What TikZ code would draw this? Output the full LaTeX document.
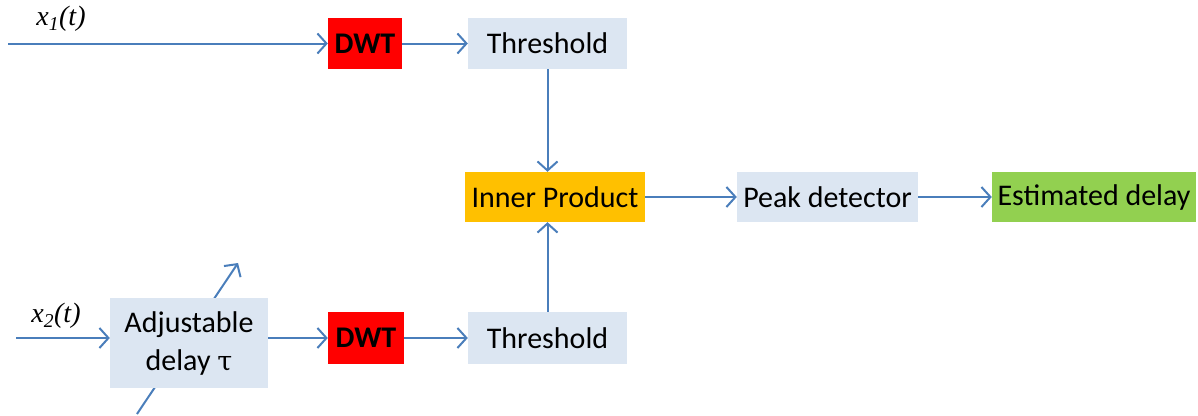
\documentclass[tikz,border=0pt]{standalone}
\usepackage{fontspec}
\setmainfont{Carlito}
\newfontfamily\timesit{Liberation Serif}
\usetikzlibrary{arrows.meta}
\definecolor{wire}{HTML}{4A7EBB}
\definecolor{paleblue}{HTML}{DCE6F2}
\definecolor{dwtred}{HTML}{FF0000}
\definecolor{prodorange}{HTML}{FFC000}
\definecolor{outgreen}{HTML}{92D050}
\tikzset{
  blk/.style={draw=none, inner sep=0pt, font=\fontsize{30}{35}\selectfont, align=center},
  paleblk/.style={blk, fill=paleblue},
  dwtblk/.style={blk, fill=dwtred, font=\fontsize{30}{35}\selectfont\bfseries, minimum width=74pt, minimum height=51pt},
  flow/.style={draw=wire, line width=2pt, -{Straight Barb[length=9pt, width=20pt, line width=2pt]}},
  sig/.style={font=\fontsize{28}{30}\selectfont\timesit\itshape}
}
\begin{document}
\begin{tikzpicture}[x=1pt, y=-1pt]
\useasboundingbox (0,0) rectangle (1198,415);

% tuning arrow drawn first so the delay box covers its middle
\coordinate (tuneA) at (137,414);
\coordinate (tuneB) at (238,263);
\draw[flow] (tuneA) -- (tuneB);

% upper branch
\node[dwtblk] (dwt1) at (365,43.5) {DWT};
\node[paleblk, minimum width=159pt, minimum height=51pt] (thr1) at (547.5,43.5) {Threshold};
\coordinate (in1) at (8,43.5);
\node[sig] (x1) at (61,19) {x\textsubscript{1}(t)};

% lower branch
\node[paleblk, minimum width=158pt, minimum height=90pt] (adj) at (189,343) {Adjustable\\[3pt]delay \fontspec{DejaVu Serif}\fontsize{27}{30}\selectfont τ};
\node[dwtblk, minimum width=76pt, minimum height=52pt] (dwt2) at (366,338) {DWT};
\node[paleblk, minimum width=159pt, minimum height=52pt] (thr2) at (547.5,338) {Threshold};
\coordinate (in2) at (16,338);
\node[sig] (x2) at (56,316) {x\textsubscript{2}(t)};

% combining stage
\node[blk, fill=prodorange, minimum width=180pt, minimum height=50pt] (prod) at (555,197) {Inner Product};
\node[paleblk, minimum width=181pt, minimum height=50pt] (peak) at (827.5,197) {Peak detector};
\node[blk, fill=outgreen, minimum width=204pt, minimum height=50pt] (est) at (1094,197) {Estimated delay};

% connectors
\draw[flow] (in1) -- (dwt1.west);
\draw[flow] (dwt1.east) -- (thr1.west);
\draw[flow] (in2) -- (in2 -| adj.west);
\draw[flow] (adj.east |- dwt2.west) -- (dwt2.west);
\draw[flow] (dwt2.east) -- (thr2.west);
\draw[flow] (thr1.south) -- (thr1.south |- prod.north);
\draw[flow] (thr2.north) -- (thr2.north |- prod.south);
\draw[flow] (prod.east) -- (peak.west);
\draw[flow] (peak.east) -- (est.west);
\end{tikzpicture}
\end{document}
